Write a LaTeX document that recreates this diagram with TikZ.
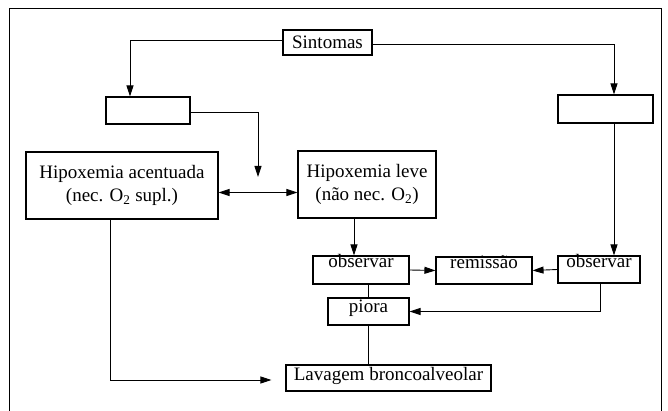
\documentclass[tikz,border=0pt]{standalone}
\usepackage{fontspec}
\setmainfont{Liberation Serif}
\usetikzlibrary{arrows.meta}

\begin{document}
\begin{tikzpicture}[x=1pt,y=1pt,>={Triangle[length=11pt,width=7pt]},line width=0.9pt,
  caixa/.style={draw,line width=1.1pt,inner sep=0pt,font=\fontsize{19}{23}\selectfont},
  topo/.style={text height=12pt,text depth=#1},
  topo/.default=15pt]
\useasboundingbox (0,0) rectangle (668,411);
\draw (9,0) -- (9,403) -- (661,403) -- (661,0);
\node[caixa,minimum width=89pt,minimum height=25pt] (sintomas) at (327.5,368.5) {Sintomas};
\node[caixa,minimum width=84pt,minimum height=27pt] (vazioE) at (148,300.5) {};
\node[caixa,minimum width=95pt,minimum height=28pt] (vazioD) at (605.5,302) {};
\node[caixa,minimum width=192pt,minimum height=67pt,align=center] (hipAc) at (122,225.5) {Hipoxemia acentuada\\(nec. O\textsubscript{2} supl.)};
\node[caixa,minimum width=138pt,minimum height=67pt,align=center] (hipLv) at (367,226.5) {Hipoxemia leve\\(não nec. O\textsubscript{2})};
\node[caixa,topo=16pt,minimum width=96pt,minimum height=28pt] (obsE) at (361,141) {observar};
\node[caixa,topo,minimum width=96pt,minimum height=27pt] (remis) at (484,140.5) {remissão};
\node[caixa,topo,minimum width=82pt,minimum height=27pt] (obsD) at (599,141.5) {observar};
\node[caixa,text height=15pt,text depth=12pt,minimum width=81pt,minimum height=27pt] (piora) at (368.5,99.5) {piora};
\node[caixa,text height=16pt,text depth=10pt,minimum width=205pt,minimum height=26pt] (lavagem) at (388.5,33) {Lavagem broncoalveolar};
\coordinate (pontaE) at (258,234);
\draw[->] ([yshift=2pt]sintomas.west) -| ([xshift=-18pt]vazioE.north);
\draw[->] ([yshift=-2pt]sintomas.east) -| ([xshift=8.5pt]vazioD.north);
\draw[->] ([yshift=-1.5pt]vazioE.east) -| (pontaE);
\draw[<->] ([yshift=-7pt]hipAc.east) -- ([yshift=-7pt]hipAc.east -| hipLv.west);
\draw[->] ([xshift=-7pt]obsE.north |- hipLv.south) -- ([xshift=-7pt]obsE.north);
\draw[->] ([xshift=15pt]obsD.north |- vazioD.south) -- ([xshift=15pt]obsD.north);
\draw[->] (obsE.east) -- (remis.west);
\draw[->] (obsD.west) -- (remis.east);
\draw (piora.north |- obsE.south) -- (piora.north);
\draw[->] ([xshift=1pt]obsD.south) |- (piora.east);
\draw (piora.south) -- (piora.south |- lavagem.north);
\draw[->,shorten >=14pt] ([xshift=-12pt]hipAc.south) |- ([yshift=-2pt]lavagem.west);
\end{tikzpicture}
\end{document}
